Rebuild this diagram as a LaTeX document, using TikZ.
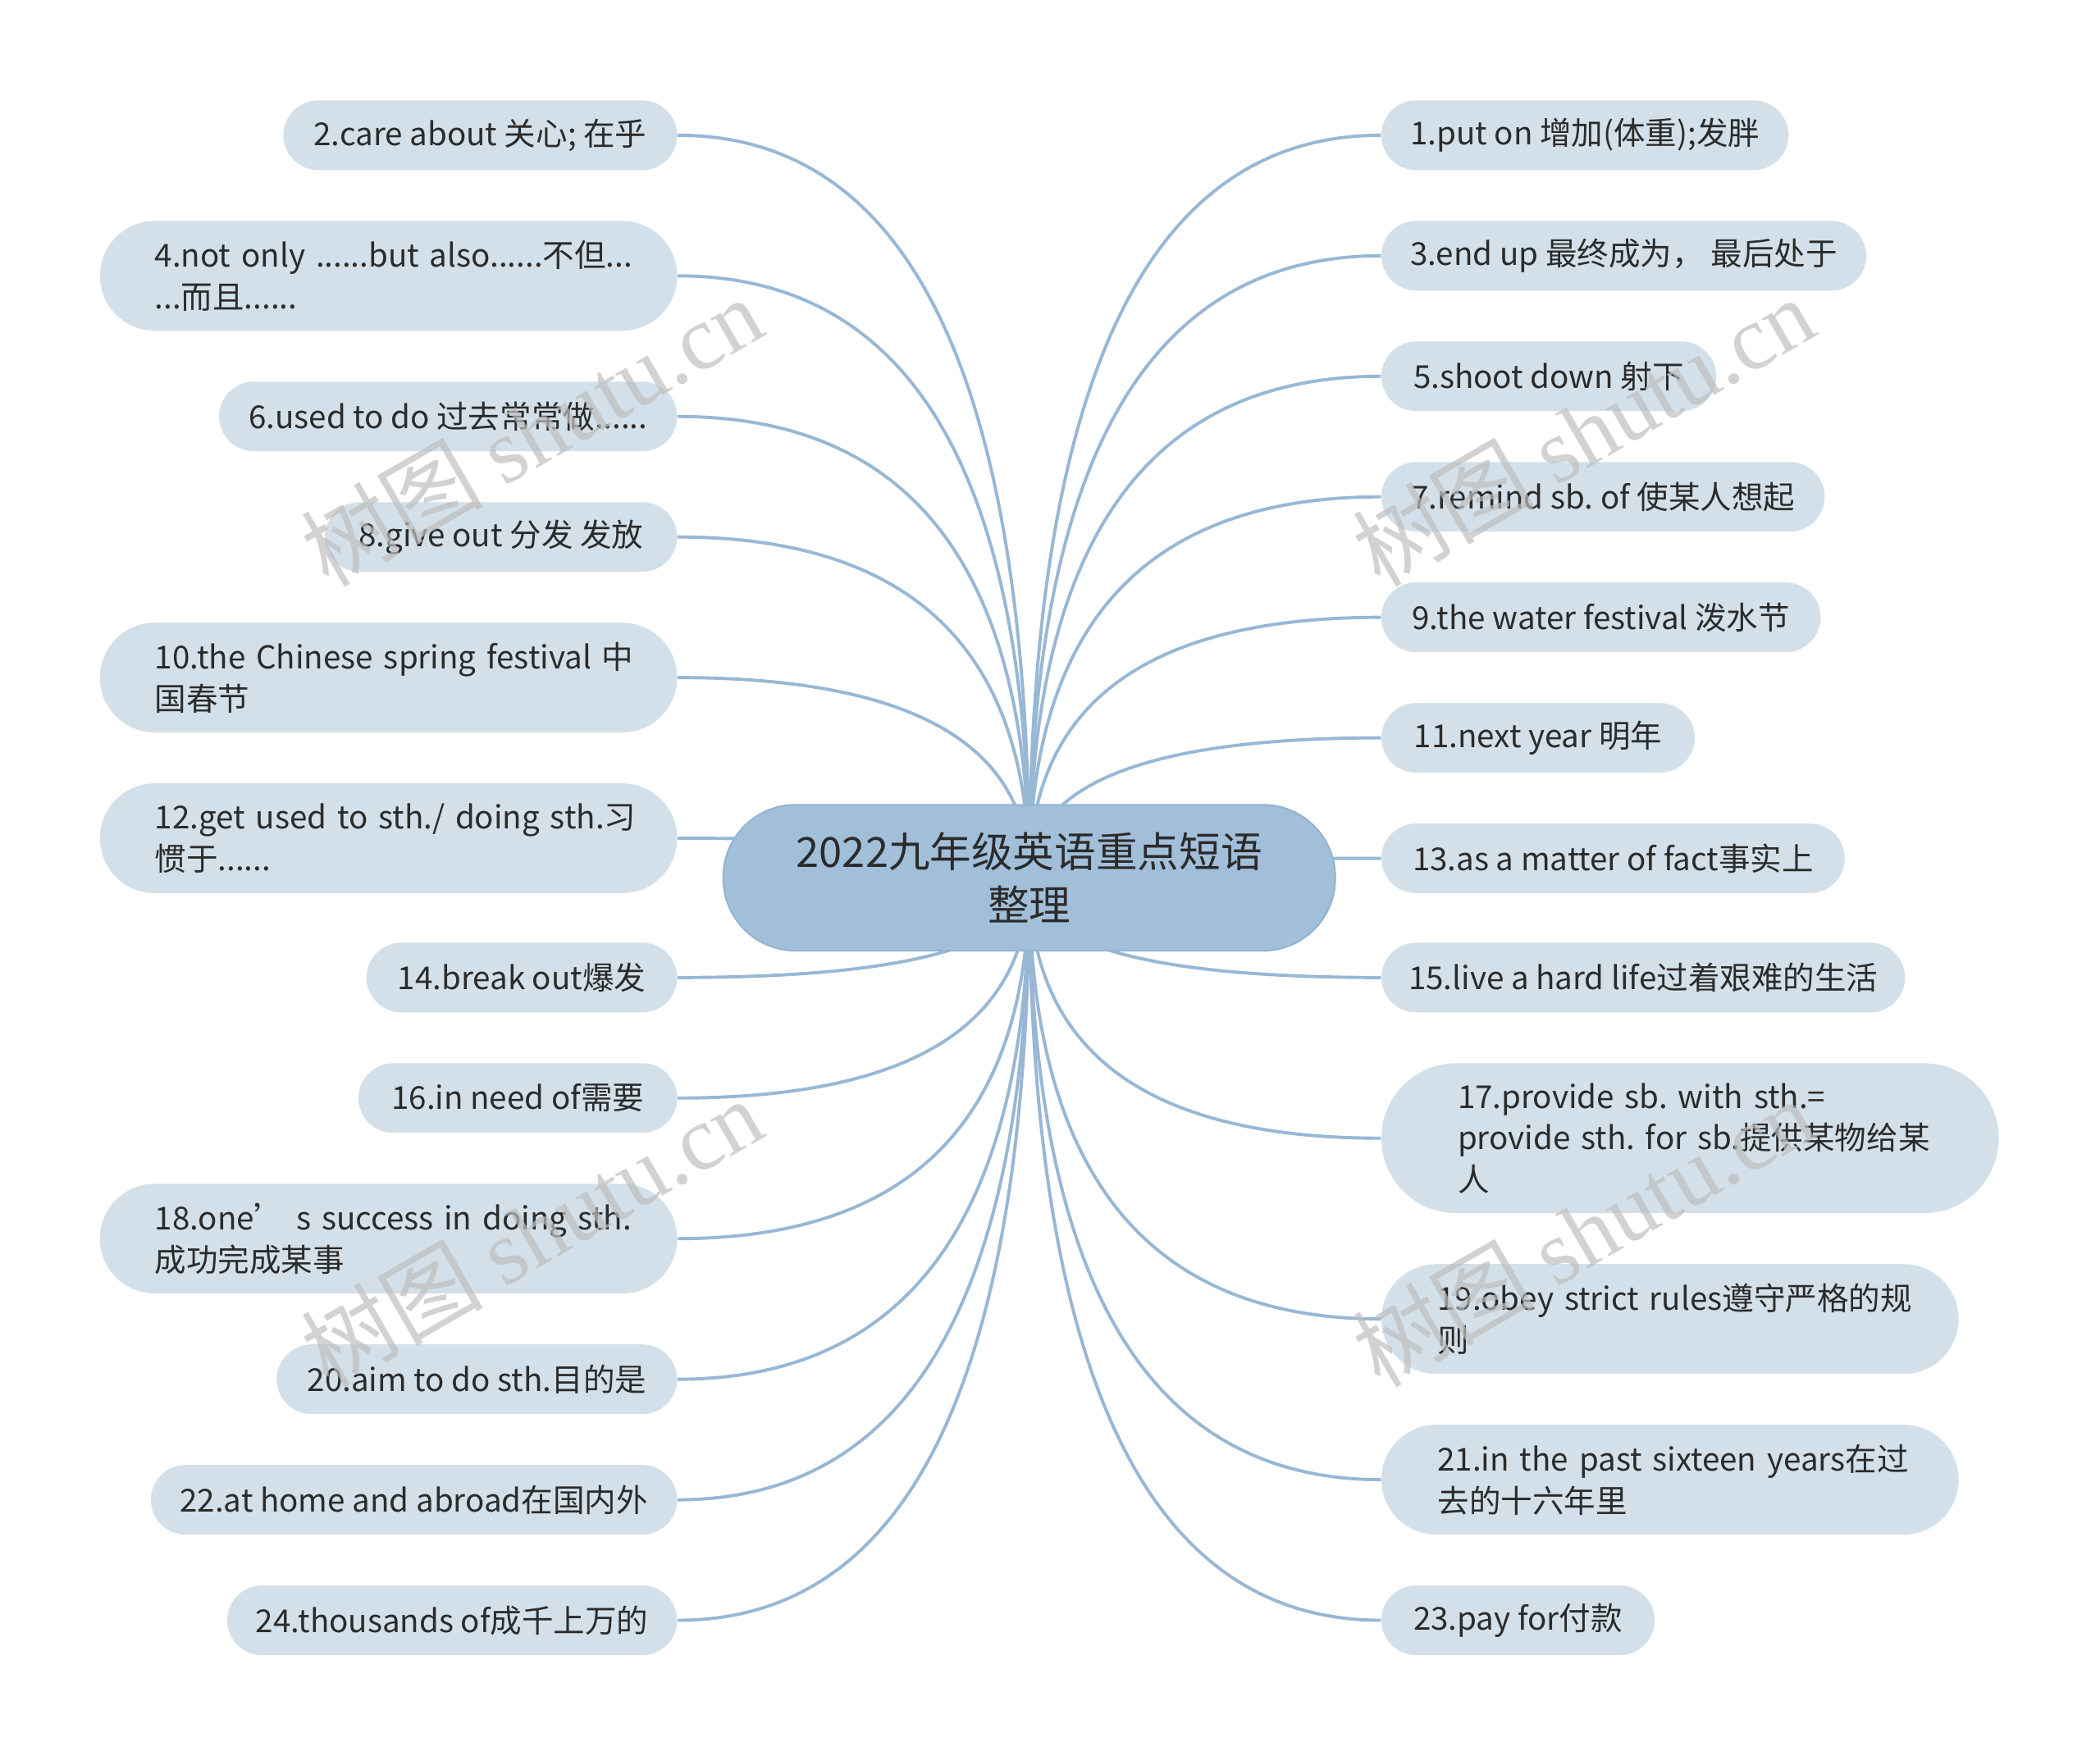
\documentclass[tikz,border=0pt]{standalone}
\usepackage{fontspec}
\setmainfont{Noto Sans CJK SC}
\newfontfamily\markfont{Liberation Serif}
\usetikzlibrary{calc, backgrounds}
\frenchspacing

\definecolor{rootblue}{HTML}{A2BFDA}
\definecolor{rootedge}{HTML}{93B3D2}
\definecolor{leafblue}{HTML}{D3E0E9}
\definecolor{linkblue}{HTML}{98B7D5}
\definecolor{inkgrey}{HTML}{2B2B2B}

\tikzset{
  rootbox/.style={fill=rootblue, draw=rootedge, line width=0.6pt, rounded corners=27pt,
    minimum width=228.5pt, minimum height=54.5pt, inner sep=0pt, align=center,
    text=inkgrey, font=\fontsize{15.5pt}{20pt}\selectfont},
  leafbox/.style={fill=leafblue, rounded corners=13pt, minimum height=26pt, inner sep=0pt,
    text=inkgrey, font=\fontsize{11.8pt}{15.5pt}\selectfont},
  leaftwo/.style={leafbox, rounded corners=20.5pt, minimum height=41pt,
    inner xsep=20.5pt, text width=174.5pt, align=left},
  leafthree/.style={leafbox, rounded corners=28pt, minimum height=56pt,
    inner xsep=28.5pt, text width=173.5pt, align=left},
  branch/.style={draw=linkblue, line width=1.2pt,
    to path={.. controls ($(\tikztostart)!0.667!(\tikztostart |- \tikztotarget)$)
      and ($(\tikztotarget)!0.667!(\tikztostart |- \tikztotarget)$) .. (\tikztotarget)}},
  wmark/.style={text=gray!50, opacity=0.7, rotate=30, font=\fontsize{34pt}{34pt}\selectfont}
}

\begin{document}
\begin{tikzpicture}[x=0.5pt, y=-0.5pt]
  \useasboundingbox (0,0) rectangle (1568,1311);

  % centre topic
  \node[rootbox] (topic) at (768.5,655.5) {2022九年级英语重点短语\\整理};

  % left side
  \node[leafbox, anchor=east, minimum width=147pt] (p2) at (506,101) {2.care about 关心; 在乎};
  \node[leaftwo, anchor=east] (p4) at (506,206) {\mbox{4.not only ......but also......不但...}\\\mbox{...而且......}};
  \node[leafbox, anchor=east, minimum width=171pt] (p6) at (506,311) {6.used to do 过去常常做......};
  \node[leafbox, anchor=east, minimum width=131.5pt] (p8) at (506,401) {8.give out 分发 发放};
  \node[leaftwo, anchor=east] (p10) at (506,506) {\mbox{10.the Chinese spring festival 中}\\\mbox{国春节}};
  \node[leaftwo, anchor=east] (p12) at (506,626) {\mbox{12.get used to sth./ doing sth.习}\\\mbox{惯于......}};
  \node[leafbox, anchor=east, minimum width=116pt] (p14) at (506,730) {14.break out爆发};
  \node[leafbox, anchor=east, minimum width=119pt] (p16) at (506,820) {16.in need of需要};
  \node[leaftwo, anchor=east] (p18) at (506,925) {\mbox{18.one’ s success in doing sth.}\\\mbox{成功完成某事}};
  \node[leafbox, anchor=east, minimum width=149.5pt] (p20) at (506,1030) {20.aim to do sth.目的是};
  \node[leafbox, anchor=east, minimum width=196.5pt] (p22) at (506,1120) {22.at home and abroad在国内外};
  \node[leafbox, anchor=east, minimum width=168pt] (p24) at (506,1210) {24.thousands of成千上万的};

  % right side
  \node[leafbox, anchor=west, minimum width=152pt] (p1) at (1031,101) {1.put on 增加(体重);发胖};
  \node[leafbox, anchor=west, minimum width=181pt] (p3) at (1031,191) {3.end up 最终成为， 最后处于};
  \node[leafbox, anchor=west, minimum width=125pt] (p5) at (1031,281) {5.shoot down 射下};
  \node[leafbox, anchor=west, minimum width=165.5pt] (p7) at (1031,371) {7.remind sb. of 使某人想起};
  \node[leafbox, anchor=west, minimum width=164pt] (p9) at (1031,461) {9.the water festival 泼水节};
  \node[leafbox, anchor=west, minimum width=117pt] (p11) at (1031,551) {11.next year 明年};
  \node[leafbox, anchor=west, minimum width=173pt] (p13) at (1031,641) {13.as a matter of fact事实上};
  \node[leafbox, anchor=west, minimum width=195.5pt] (p15) at (1031,730) {15.live a hard life过着艰难的生活};
  \node[leafthree, anchor=west] (p17) at (1031,850) {\mbox{17.provide sb. with sth.=}\\\mbox{provide sth. for sb.提供某物给某}\\\mbox{人}};
  \node[leaftwo, anchor=west, inner xsep=21pt, text width=173.5pt] (p19) at (1031,985) {\mbox{19.obey strict rules遵守严格的规}\\\mbox{则}};
  \node[leaftwo, anchor=west, inner xsep=21pt, text width=173.5pt] (p21) at (1031,1105) {\mbox{21.in the past sixteen years在过}\\\mbox{去的十六年里}};
  \node[leafbox, anchor=west, minimum width=102pt] (p23) at (1031,1210) {23.pay for付款};

  % connectors
  \begin{scope}[on background layer]
    \draw[branch] (topic.center) to (p2.east);
    \draw[branch] (topic.center) to (p4.east);
    \draw[branch] (topic.center) to (p6.east);
    \draw[branch] (topic.center) to (p8.east);
    \draw[branch] (topic.center) to (p10.east);
    \draw[branch] (topic.center) to (p12.east);
    \draw[branch] (topic.center) to (p14.east);
    \draw[branch] (topic.center) to (p16.east);
    \draw[branch] (topic.center) to (p18.east);
    \draw[branch] (topic.center) to (p20.east);
    \draw[branch] (topic.center) to (p22.east);
    \draw[branch] (topic.center) to (p24.east);
    \draw[branch] (topic.center) to (p1.west);
    \draw[branch] (topic.center) to (p3.west);
    \draw[branch] (topic.center) to (p5.west);
    \draw[branch] (topic.center) to (p7.west);
    \draw[branch] (topic.center) to (p9.west);
    \draw[branch] (topic.center) to (p11.west);
    \draw[branch] (topic.center) to (p13.west);
    \draw[branch] (topic.center) to (p15.west);
    \draw[branch] (topic.center) to (p17.west);
    \draw[branch] (topic.center) to (p19.west);
    \draw[branch] (topic.center) to (p21.west);
    \draw[branch] (topic.center) to (p23.west);
  \end{scope}

  % watermarks
  \node[wmark] (w1) at (397,322) {树图 {\markfont shutu.cn}};
  \node[wmark] (w2) at (1182,322) {树图 {\markfont shutu.cn}};
  \node[wmark] (w3) at (397,920) {树图 {\markfont shutu.cn}};
  \node[wmark] (w4) at (1182,920) {树图 {\markfont shutu.cn}};
\end{tikzpicture}
\end{document}
